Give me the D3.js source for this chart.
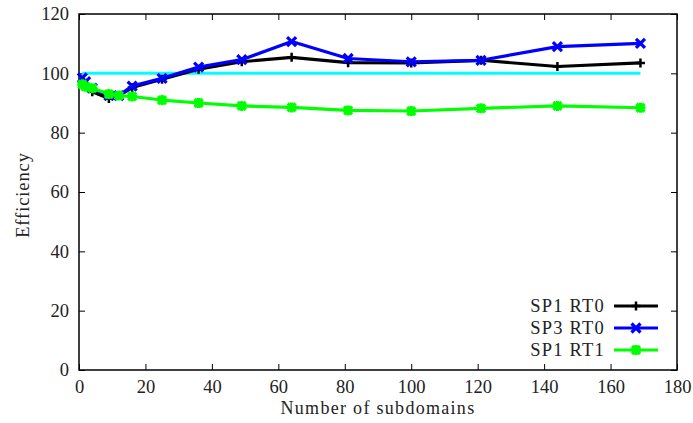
<!DOCTYPE html>
<html>
<head>
<meta charset="utf-8">
<script src="https://cdn.jsdelivr.net/npm/d3@7"></script>
<style>
  body { margin: 0; background: #fff; }
</style>
</head>
<body>
<svg id="chart" width="693" height="423"></svg>
<script>
// 数据
const subdomains = [1, 2, 4, 9, 12, 16, 25, 36, 49, 64, 81, 100, 121, 144, 169];
const sp1rt0 = [97, 96, 93.8, 91.5, 92.5, 95.2, 98, 101.4, 103.9, 105.4, 103.6, 103.5, 104.4, 102.3, 103.5];
const sp3rt0 = [98.5, 97.2, 95, 92.5, 92.5, 95.7, 98.3, 102.1, 104.6, 110.7, 105, 103.9, 104.4, 109, 110.1];
const sp1rt1 = [96.3, 95.5, 95, 93, 92.5, 92.2, 91, 90, 89, 88.5, 87.5, 87.3, 88.2, 89, 88.4];
const idealX = [1, 169];
const idealY = [100, 100];
const xTicks = [0, 20, 40, 60, 80, 100, 120, 140, 160, 180];
const yTicks = [0, 20, 40, 60, 80, 100, 120];
const seriesNames = ["SP1 RT0", "SP3 RT0", "SP1 RT1"];

const serif = "'Liberation Serif', 'DejaVu Serif', 'Times New Roman', serif";
const svg = d3.select("#chart");
const plotL = 79, plotR = 677, plotT = 14, plotB = 370;

const x = d3.scaleLinear().domain([0, 180]).range([plotL, plotR]);
const y = d3.scaleLinear().domain([0, 120]).range([plotB, plotT]);

// 文字样式
function serifText(sel, size) {
    return sel.style("font-family", serif).style("font-size", (size || 18.5) + "px").style("fill", "#222");
}

// 坐标轴（刻度朝内）
const gx = svg.append("g").attr("transform", `translate(0,${plotB})`)
    .call(d3.axisBottom(x).tickValues(xTicks).tickSizeInner(-6).tickSizeOuter(0));
gx.selectAll(".tick text").attr("y", 23).attr("dy", 0);
svg.append("g").attr("transform", `translate(0,${plotT})`)
    .call(d3.axisTop(x).tickValues(xTicks).tickSizeInner(-6).tickSizeOuter(0).tickFormat(""));
svg.append("g").attr("transform", `translate(${plotL},0)`)
    .call(d3.axisLeft(y).tickValues(yTicks).tickSizeInner(-6).tickSizeOuter(0).tickPadding(10));
svg.append("g").attr("transform", `translate(${plotR},0)`)
    .call(d3.axisRight(y).tickValues(yTicks).tickSizeInner(-6).tickSizeOuter(0).tickFormat(""));
svg.selectAll(".domain").remove();
svg.selectAll(".tick line").attr("stroke", "#000").attr("stroke-width", 1);
serifText(svg.selectAll(".tick text"));

svg.append("rect")
    .attr("x", plotL).attr("y", plotT)
    .attr("width", plotR - plotL).attr("height", plotB - plotT)
    .attr("fill", "none").attr("stroke", "#000").attr("stroke-width", 1.5);

// 轴标题
svg.append("text")
    .attr("x", (plotL + plotR) / 2).attr("y", 414)
    .attr("text-anchor", "middle")
    .call(serifText, 18).style("letter-spacing", "1.3px")
    .text("Number of subdomains");
svg.append("text")
    .attr("transform", `translate(29,195) rotate(-90)`)
    .attr("text-anchor", "middle")
    .call(serifText).style("letter-spacing", "0.9px")
    .text("Efficiency");

const line = d3.line().x(d => x(d[0])).y(d => y(d[1]));

// 理想效率线
svg.append("path")
    .datum(d3.zip(idealX, idealY))
    .attr("d", line)
    .attr("fill", "none").attr("stroke", "#00ffff").attr("stroke-width", 3);

const series = [
    { name: seriesNames[0], values: sp1rt0, color: "#000000", marker: "plus" },
    { name: seriesNames[1], values: sp3rt0, color: "#0000ff", marker: "cross" },
    { name: seriesNames[2], values: sp1rt1, color: "#00ff00", marker: "star" }
];

// 标记形状
function markerPath(kind) {
    if (kind === "plus") return "M-4.5,0H4.5M0,-4.5V4.5";
    if (kind === "cross") return "M-4.5,-4.5L4.5,4.5M-4.5,4.5L4.5,-4.5";
    return "M-4,-4L4,4M-4,4L4,-4M-5,0H5M0,-5V5";
}
function markerWidth(kind) {
    return kind === "plus" ? 2.5 : 3.2;
}

series.forEach(s => {
    const pts = d3.zip(subdomains, s.values);
    svg.append("path")
        .datum(pts)
        .attr("d", line)
        .attr("fill", "none").attr("stroke", s.color).attr("stroke-width", 3.2)
        .attr("stroke-linejoin", "round");
    svg.append("g").selectAll("path")
        .data(pts).join("path")
        .attr("transform", d => `translate(${x(d[0])},${y(d[1])})`)
        .attr("d", markerPath(s.marker))
        .attr("fill", "none").attr("stroke", s.color)
        .attr("stroke-width", markerWidth(s.marker));
});

// 图例
const legend = svg.append("g");
series.forEach((s, i) => {
    const ly = 306 + i * 22;
    legend.append("text")
        .attr("x", 605).attr("y", ly + 6)
        .attr("text-anchor", "end")
        .call(serifText).style("letter-spacing", "1.2px")
        .text(s.name);
    legend.append("line")
        .attr("x1", 614).attr("x2", 658).attr("y1", ly).attr("y2", ly)
        .attr("stroke", s.color).attr("stroke-width", 3.2);
    legend.append("path")
        .attr("transform", `translate(636,${ly})`)
        .attr("d", markerPath(s.marker))
        .attr("fill", "none").attr("stroke", s.color)
        .attr("stroke-width", markerWidth(s.marker));
});
</script>
</body>
</html>
